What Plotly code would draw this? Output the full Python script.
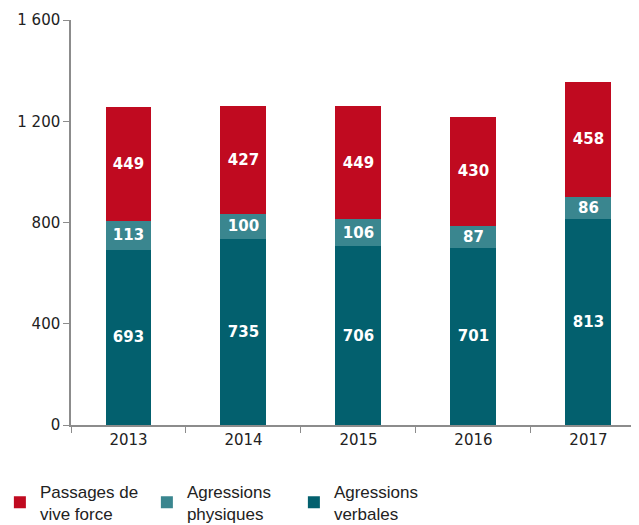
import plotly.graph_objects as go

years = ["2013", "2014", "2015", "2016", "2017"]
verbales = [693, 735, 706, 701, 813]
physiques = [113, 100, 106, 87, 86]
vive_force = [449, 427, 449, 430, 458]

series = [
    ("Agressions<br>verbales", verbales, "#03606E"),
    ("Agressions<br>physiques", physiques, "#3A868F"),
    ("Passages de<br>vive force", vive_force, "#C00A20"),
]

fig = go.Figure()
for name, vals, color in series:
    fig.add_trace(go.Bar(
        x=years, y=vals, name=name, marker_color=color,
        marker_line_width=0, width=0.4,
        text=[str(v) for v in vals], textposition="inside",
        insidetextanchor="middle",
        textfont=dict(family="DejaVu Sans", size=15, color="white", weight="bold"),
    ))

fig.update_layout(
    barmode="stack",
    width=623, height=517,
    margin=dict(l=63, r=0, t=12, b=100, autoexpand=False),
    plot_bgcolor="white", paper_bgcolor="white",
    separators=", ",
    font=dict(family="DejaVu Sans", color="#222222"),
    uniformtext=dict(mode="show", minsize=15),
    showlegend=True,
    legend=dict(
        orientation="h", traceorder="reversed",
        x=-0.127, xanchor="left", y=-0.12, yanchor="top",
        font=dict(family="Liberation Sans", size=17, color="#222222"),
        entrywidth=102, entrywidthmode="pixels",
        itemsizing="constant",
    ),
    xaxis=dict(
        type="category", range=[-0.5, 4.37],
        showline=True, linecolor="#8C8C8C", linewidth=1.5,
        ticks="outside", ticklen=6, tickcolor="#8C8C8C",
        tickson="boundaries",
        tickfont=dict(family="DejaVu Sans", size=15, color="#222222"),
        showgrid=False,
    ),
    yaxis=dict(
        range=[0, 1600], tickvals=[0, 400, 800, 1200, 1600],
        showline=True, linecolor="#8C8C8C", linewidth=1.5,
        ticks="outside", ticklen=6, tickcolor="#8C8C8C",
        tickfont=dict(family="DejaVu Sans", size=15, color="#222222"),
        showgrid=False, zeroline=False, tickformat=",d",
    ),
)

fig.write_html("out.html")
